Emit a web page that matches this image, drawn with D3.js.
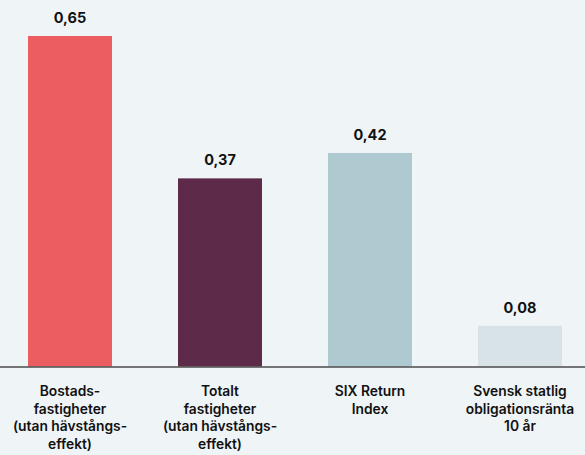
<!DOCTYPE html>
<html>
<head>
<meta charset="utf-8">
<script src="https://cdn.jsdelivr.net/npm/d3@7"></script>
<style>
  html, body { margin: 0; padding: 0; background: #eff4f7; }
  svg { display: block; }
  .val { font-family: Inter, "Noto Sans", sans-serif; font-weight: 700; font-size: 14.5px; fill: #111; }
  .cat { font-family: Inter, "Liberation Sans", sans-serif; font-weight: 600; font-size: 13.8px; fill: #111; }
</style>
</head>
<body>
<svg id="chart" width="585" height="455"></svg>
<script>
// Categories (each entry is a list of label lines), values and bar colours
const categories = [
  ["Bostads-", "fastigheter", "(utan hävstångs-", "effekt)"],
  ["Totalt", "fastigheter", "(utan hävstångs-", "effekt)"],
  ["SIX Return", "Index"],
  ["Svensk statlig", "obligationsränta", "10 år"]
];
const values = [0.65, 0.37, 0.42, 0.08];
const valueLabels = ["0,65", "0,37", "0,42", "0,08"];
const colors = ["#ec5d62", "#5e2a4a", "#afc9d0", "#d8e3e8"];

const W = 585, H = 455;
const baseline = 366.5;
const svg = d3.select("#chart");

const x = d3.scaleBand()
  .domain(d3.range(values.length))
  .range([-5, 595])
  .paddingInner(0.44)
  .paddingOuter(0.22);

const y = d3.scaleLinear()
  .domain([0, 0.65])
  .range([baseline, 36]);

// Bars
svg.append("g").selectAll("rect")
  .data(values)
  .join("rect")
  .attr("x", (d, i) => x(i))
  .attr("width", x.bandwidth())
  .attr("y", d => y(d))
  .attr("height", d => y(0) - y(d))
  .attr("fill", (d, i) => colors[i]);

// Value labels above bars
svg.append("g").selectAll("text")
  .data(values)
  .join("text")
  .attr("class", "val")
  .attr("x", (d, i) => x(i) + x.bandwidth() / 2)
  .attr("y", d => y(d) - 13)
  .attr("text-anchor", "middle")
  .text((d, i) => valueLabels[i]);

// Baseline axis
const axis = d3.axisBottom(x).tickSize(0).tickFormat("");
const gAxis = svg.append("g")
  .attr("transform", `translate(0,${baseline})`)
  .call(axis);
gAxis.select(".domain").attr("d", `M0,0.5H${W}`).attr("stroke", "#4a4a4a").attr("stroke-width", 1.5);

// Multi-line category labels
const cats = svg.append("g").selectAll("text")
  .data(categories)
  .join("text")
  .attr("class", "cat")
  .attr("text-anchor", "middle")
  .attr("x", (d, i) => x(i) + x.bandwidth() / 2)
  .attr("y", 396);
cats.selectAll("tspan")
  .data(d => d)
  .join("tspan")
  .attr("x", function () { return this.parentNode.getAttribute("x"); })
  .attr("dy", (d, j) => j === 0 ? 0 : 17.7)
  .text(d => d);
</script>
</body>
</html>
